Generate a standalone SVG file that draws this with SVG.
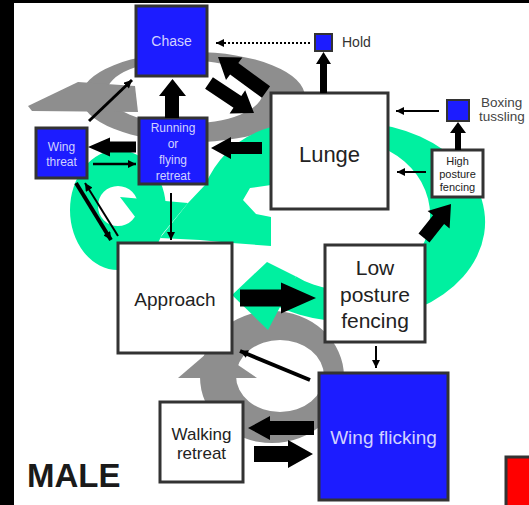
<svg xmlns="http://www.w3.org/2000/svg" width="529" height="505" viewBox="0 0 529 505">
<style>
.box{stroke:#333;stroke-width:3}
.blue{fill:#1c1cff}
.wht{fill:#fff}
.t{font-family:"Liberation Sans",Arial,sans-serif;text-anchor:middle}
.tb{fill:#d2d2ff}
.tk{fill:#222}
.gray{fill:#8e8e8e}
.green{fill:#00f0a0}
.blk{fill:#000}
.ln{stroke:#000;fill:none}
</style>
<defs>
<marker id="a" viewBox="0 0 10 10" refX="10" refY="5" markerWidth="9" markerHeight="8" markerUnits="userSpaceOnUse" orient="auto"><path d="M0,0 L10,5 L0,10 z" fill="#000"/></marker>
</defs>
<rect width="529" height="505" fill="#fff"/>
<rect x="0" y="0" width="14" height="505" fill="#000"/>
<rect x="0" y="0" width="529" height="3" fill="#000"/>

<g id="background-arrows">
<path class="gray" fill-rule="evenodd" d="M81,97 a112,45 0 1,0 224,0 a112,45 0 1,0 -224,0 z M107,92 a78,32 0 1,0 156,0 a78,32 0 1,0 -156,0 z"/>
<polygon class="gray" points="28,106 78,82 135,86 138,112 32,111"/>
<path class="gray" fill-rule="evenodd" d="M200,377 a72,66 0 1,0 144,0 a72,66 0 1,0 -144,0 z M236,376 a44,36 0 1,0 88,0 a44,36 0 1,0 -88,0 z"/>
<polygon class="gray" points="178,378 213,348 257,378"/>
<path class="green" fill-rule="evenodd" d="M70,210 a48,60 0 1,0 96,0 a48,60 0 1,0 -96,0 z M98,206 a20,20 0 1,0 40,0 a20,20 0 1,0 -40,0 z"/>
<polygon class="green" points="120,197 188,203 155,243"/>
<path class="green" d="M271,127 Q225,140 205,185 L188,203 L160,238 L200,240 L232,243 L271,246 L271,217 L256,214 L243,200 L250,188 L271,185 Z"/>
<path class="green" d="M361.8,122.4 A135,100 0 1,1 272.6,303.9 L296.2,276.4 A85,75 0 1,0 352.4,140.3 Z"/>
<polygon class="green" points="267,262 232,295 268,330 296,276.4"/>
</g>

<g id="chase"><rect class="box blue" x="136" y="6" width="71" height="70"/><text class="t tb" x="171.5" y="46" font-size="14">Chase</text></g>
<g id="hold"><rect x="315" y="34" width="17" height="17" fill="#1c1cff" stroke="#333" stroke-width="2"/><text x="342" y="47" font-size="14" font-family="Liberation Sans, Arial, sans-serif" fill="#333">Hold</text></g>
<g id="wing-threat"><rect class="box blue" x="36" y="128" width="51" height="50"/><text class="t tb" font-size="12"><tspan x="61.5" y="151">Wing</tspan><tspan x="61.5" y="166">threat</tspan></text></g>
<g id="running-retreat"><rect class="box blue" x="139" y="118" width="68" height="66"/><text class="t tb" font-size="12"><tspan x="173" y="132">Running</tspan><tspan x="173" y="148">or</tspan><tspan x="173" y="164">flying</tspan><tspan x="173" y="180">retreat</tspan></text></g>
<g id="lunge"><rect class="box wht" x="271" y="93" width="117" height="116"/><text class="t tk" x="329.5" y="162" font-size="22">Lunge</text></g>
<g id="boxing"><rect x="447" y="100" width="22" height="21" fill="#1c1cff" stroke="#333" stroke-width="2"/><text font-family="Liberation Sans, Arial, sans-serif" font-size="13.5" fill="#444"><tspan x="481" y="107">Boxing</tspan><tspan x="479" y="121">tussling</tspan></text></g>
<g id="high-posture"><rect class="box wht" x="432" y="150" width="51" height="47" stroke-width="2.5"/><text class="t tk" font-size="11"><tspan x="457.5" y="165">High</tspan><tspan x="457.5" y="178">posture</tspan><tspan x="457.5" y="191">fencing</tspan></text></g>
<g id="approach"><rect class="box wht" x="118" y="243" width="114" height="110"/><text class="t tk" x="175" y="306" font-size="19">Approach</text></g>
<g id="low-posture"><rect class="box wht" x="325" y="245" width="100" height="97"/><text class="t tk" font-size="21"><tspan x="375" y="275">Low</tspan><tspan x="375" y="302">posture</tspan><tspan x="375" y="328">fencing</tspan></text></g>
<g id="walking-retreat"><rect class="box wht" x="160" y="402" width="83" height="80"/><text class="t tk" font-size="17"><tspan x="201.5" y="440">Walking</tspan><tspan x="201.5" y="459">retreat</tspan></text></g>
<g id="wing-flicking"><rect class="box blue" x="319" y="373" width="129" height="127"/><text class="t tb" x="383.5" y="444" font-size="19">Wing flicking</text></g>
<g id="other"><rect x="506" y="457" width="30" height="60" fill="#ff0000" stroke="#333" stroke-width="3"/></g>
<text id="male" x="27" y="487" font-family="Liberation Sans, Arial, sans-serif" font-weight="bold" font-size="33" fill="#1a1a1a">MALE</text>

<g id="connectors">
<polygon class="blk" points="165,118 165,96 159,96 172.5,79 186,96 179,96 179,118"/>
<polygon class="blk" points="270.1,86.3 238.3,63.1 242.4,57.5 218,57 226,80.1 230.1,74.5 261.9,97.7"/>
<polygon class="blk" points="205.1,88.8 233.5,107.7 229.6,113.5 254,113 245.2,90.3 241.3,96.1 212.9,77.2"/>
<polygon class="blk" points="262,142 231,142 231,137 211,148 231,159 231,154 262,154"/>
<polygon class="blk" points="136,141.5 110,141.5 110,137.5 88,147 110,156.5 110,152.5 136,152.5"/>
<line class="ln" x1="93" y1="164" x2="136" y2="164" stroke-width="2.5" marker-end="url(#a)"/>
<line class="ln" x1="89" y1="121" x2="132" y2="80" stroke-width="3" marker-end="url(#a)"/>
<line class="ln" x1="76" y1="183" x2="111" y2="240" stroke-width="4" marker-end="url(#a)"/>
<line class="ln" x1="118" y1="236" x2="85" y2="183" stroke-width="2" marker-end="url(#a)"/>
<line class="ln" x1="171" y1="193" x2="171" y2="240" stroke-width="2" marker-end="url(#a)"/>
<polygon class="blk" points="320,93 320,64 316,64 323.5,52 331,64 327,64 327,93"/>
<line class="ln" x1="310" y1="43" x2="216" y2="43" stroke-width="2" stroke-dasharray="2,2" marker-end="url(#a)"/>
<line class="ln" x1="439" y1="111" x2="396" y2="111" stroke-width="2" marker-end="url(#a)"/>
<polygon class="blk" points="455,150 455,133 450,133 458,122 466,133 461,133 461,150"/>
<line class="ln" x1="426" y1="172" x2="397" y2="172" stroke-width="2" marker-end="url(#a)"/>
<polygon class="blk" points="429.5,242.4 444.1,224.1 449.6,228.4 451,204 427.6,211 433.1,215.3 418.5,233.6"/>
<polygon class="blk" points="240,289.5 281,289.5 281,282.5 316,298 281,313.5 281,306.5 240,306.5"/>
<line class="ln" x1="376" y1="346" x2="376" y2="368" stroke-width="2" marker-end="url(#a)"/>
<line class="ln" x1="310" y1="380" x2="240" y2="351" stroke-width="4" marker-end="url(#a)"/>
<polygon class="blk" points="314,421 270,421 270,416 248,428 270,440 270,435 314,435"/>
<polygon class="blk" points="254,446 288,446 288,440 313,454 288,468 288,462 254,462"/>
</g>
</svg>
